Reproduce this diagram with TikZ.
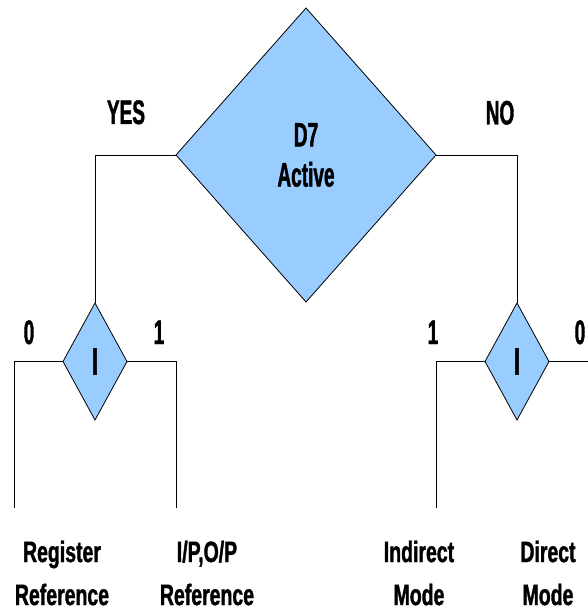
\documentclass[tikz,border=0pt]{standalone}
\usepackage{fontspec}
\setmainfont{Liberation Sans}
% narrow, heavy bold faces for the labels
\newfontfamily\labelfont{Liberation Sans}[FakeStretch=0.56, FakeBold=1.2]
\newfontfamily\captionfont{Liberation Sans}[FakeStretch=0.66, FakeBold=1.2]
\usetikzlibrary{shapes.geometric}
\definecolor{decfill}{RGB}{153,204,255}

\tikzset{
  decision/.style={diamond, draw=black, line width=0.8pt, fill=decfill,
    inner sep=0pt, outer sep=0pt, align=center},
  bigdec/.style={decision, minimum width=260pt, minimum height=294pt,
    font=\labelfont\bfseries\fontsize{34}{40}\selectfont},
  smalldec/.style={decision, minimum width=64pt, minimum height=117pt,
    font=\labelfont\bfseries\fontsize{38}{40}\selectfont},
  branch/.style={anchor=base, inner sep=0pt,
    font=\labelfont\bfseries\fontsize{34}{40}\selectfont},
  outcome/.style={align=center, inner sep=0pt,
    font=\captionfont\bfseries\fontsize{29.5}{43}\selectfont},
  wire/.style={draw=black, line width=1pt},
}

\begin{document}
\begin{tikzpicture}[x=1pt,y=-1pt]
  \useasboundingbox (0,0) rectangle (588,615);

  % decisions
  \node[bigdec] (d7) at (306,155) {D7\\Active};
  \node[smalldec] (il) at (95,361.5) {I};
  \node[smalldec] (ir) at (517,361.5) {I};

  % free ends of the outcome lines
  \coordinate (e1) at (14,508);
  \coordinate (e2) at (176,508);
  \coordinate (e3) at (436,508);
  \coordinate (e4) at (588,361.5);

  % connectors
  \draw[wire] (d7.west) -| (il.north);
  \draw[wire] (d7.east) -| (ir.north);
  \draw[wire] (il.west) -| (e1);
  \draw[wire] (il.east) -| (e2);
  \draw[wire] (ir.west) -| (e3);
  \draw[wire] (ir.east) -- (e4);

  % branch labels
  \node[branch] (yes) at (126,124) {YES};
  \node[branch] (no) at (500,124.5) {NO};
  \node[branch] (l0) at (29,344) {0};
  \node[branch] (l1) at (159,344) {1};
  \node[branch] (r1) at (433,344) {1};
  \node[branch] (r0) at (580,344) {0};

  % outcomes
  \node[outcome] (reg) at (62,573) {Register\\Reference};
  \node[outcome] (iop) at (207,573) {I/P,O/P\\Reference};
  \node[outcome] (ind) at (419,573) {Indirect\\Mode};
  \node[outcome] (dir) at (548,573) {Direct\\Mode};
\end{tikzpicture}
\end{document}
